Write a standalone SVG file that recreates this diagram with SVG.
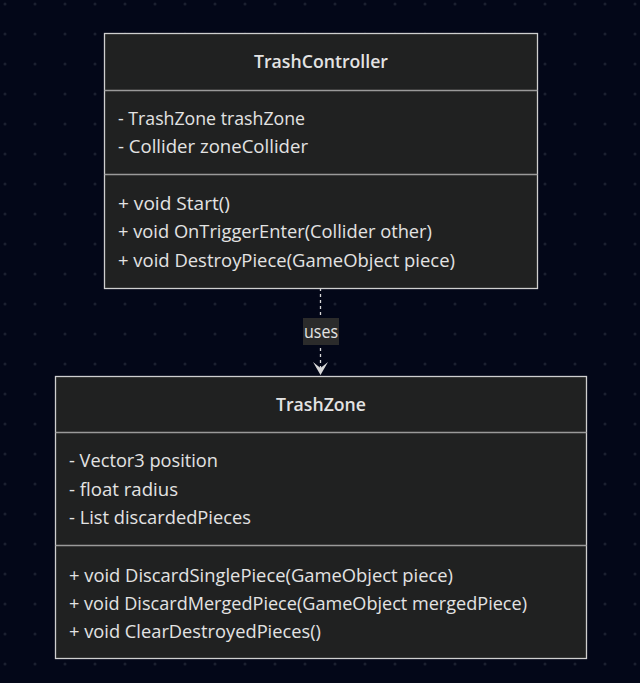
<svg xmlns="http://www.w3.org/2000/svg" width="640" height="683" viewBox="0 0 640 683">
<defs>
<pattern id="dots" x="5" y="4" width="30" height="30" patternUnits="userSpaceOnUse">
<circle cx="0" cy="0" r="1.5" fill="#1b2030"/>
<circle cx="30" cy="0" r="1.5" fill="#1b2030"/>
<circle cx="0" cy="30" r="1.5" fill="#1b2030"/>
<circle cx="30" cy="30" r="1.5" fill="#1b2030"/>
</pattern>
</defs>
<style>
.box{fill:#202121;stroke:#cfcfcf;stroke-width:1.3}
.div{stroke:#9a9a9a;stroke-width:1.3}
.t{font-family:"Open Sans","DejaVu Sans",sans-serif;font-size:17.5px;fill:#e3e3e3}
.title{font-weight:600;text-anchor:middle}
.edge{stroke:#d8d8d8;stroke-width:1.3;stroke-dasharray:3,3;fill:none}
</style>
<rect width="640" height="683" fill="#030718"/>
<rect width="640" height="683" fill="url(#dots)"/>
<g id="connectors">
<line class="edge" x1="320.5" y1="288" x2="320.5" y2="372"/>
<path d="M313,362 L320.5,375 L328,362 L320.5,368 Z" fill="#d8d8d8"/>
<rect x="303" y="318" width="36" height="27" fill="#2b2b2b"/>
<text class="t" x="321" y="338" text-anchor="middle" textLength="34" lengthAdjust="spacingAndGlyphs">uses</text>
</g>
<g id="TrashController">
<rect class="box" x="104.5" y="33.5" width="433" height="255"/>
<line class="div" x1="104.5" y1="90.5" x2="537.5" y2="90.5"/>
<line class="div" x1="104.5" y1="174.5" x2="537.5" y2="174.5"/>
<text class="t title" x="321" y="68" textLength="134" lengthAdjust="spacingAndGlyphs">TrashController</text>
<text class="t" x="118" y="125" textLength="187" lengthAdjust="spacingAndGlyphs">- TrashZone trashZone</text>
<text class="t" x="118" y="153" textLength="190" lengthAdjust="spacingAndGlyphs">- Collider zoneCollider</text>
<text class="t" x="118" y="210" textLength="112" lengthAdjust="spacingAndGlyphs">+ void Start()</text>
<text class="t" x="118" y="238" textLength="314" lengthAdjust="spacingAndGlyphs">+ void OnTriggerEnter(Collider other)</text>
<text class="t" x="118" y="267" textLength="337" lengthAdjust="spacingAndGlyphs">+ void DestroyPiece(GameObject piece)</text>
</g>
<g id="TrashZone">
<rect class="box" x="55.5" y="376.5" width="531" height="282"/>
<line class="div" x1="55.5" y1="432.5" x2="586.5" y2="432.5"/>
<line class="div" x1="55.5" y1="545.5" x2="586.5" y2="545.5"/>
<text class="t title" x="321" y="411" textLength="90" lengthAdjust="spacingAndGlyphs">TrashZone</text>
<text class="t" x="69" y="467" textLength="149" lengthAdjust="spacingAndGlyphs">- Vector3 position</text>
<text class="t" x="69" y="496" textLength="109" lengthAdjust="spacingAndGlyphs">- float radius</text>
<text class="t" x="69" y="524" textLength="182" lengthAdjust="spacingAndGlyphs">- List discardedPieces</text>
<text class="t" x="69" y="582" textLength="384" lengthAdjust="spacingAndGlyphs">+ void DiscardSinglePiece(GameObject piece)</text>
<text class="t" x="69" y="610" textLength="458" lengthAdjust="spacingAndGlyphs">+ void DiscardMergedPiece(GameObject mergedPiece)</text>
<text class="t" x="69" y="638" textLength="252" lengthAdjust="spacingAndGlyphs">+ void ClearDestroyedPieces()</text>
</g>
</svg>
